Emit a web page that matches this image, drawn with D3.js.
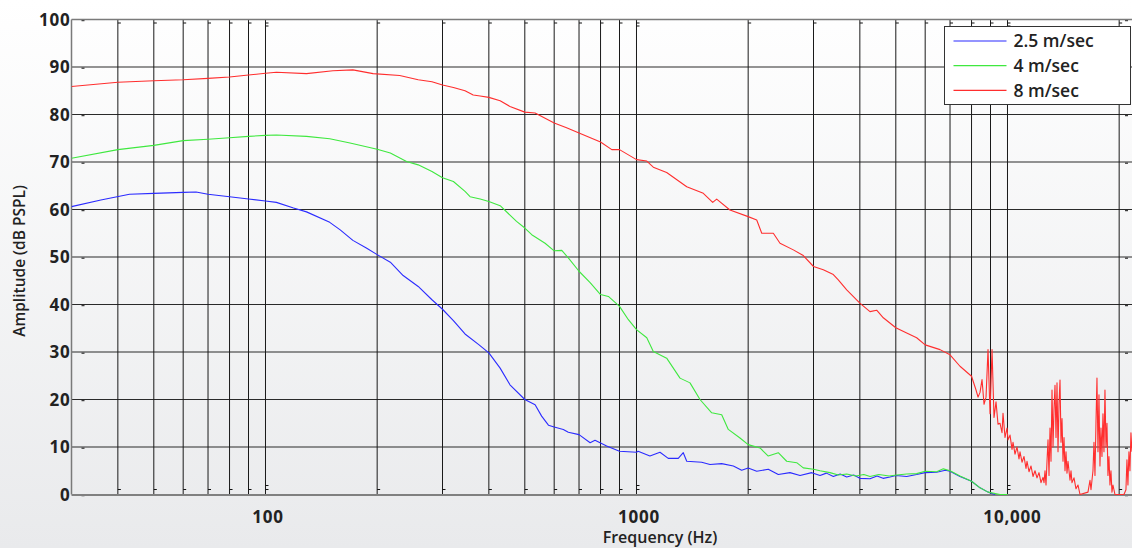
<!DOCTYPE html>
<meta charset="utf-8">
<head>
  <title>Amplitude vs frequency</title>
  <script src="https://cdnjs.cloudflare.com/ajax/libs/d3/7.8.5/d3.min.js"></script>
  <style>
    body { margin: 0; overflow: hidden; }
    text { font-family: "Open Sans", sans-serif; fill: #222; }
  </style>
</head>
<body>
<div id="chart"></div>
<script>
  // values, [Hz, dB]
  var blue = [[30,60.6],[36,62.0],[43,63.2],[50,63.4],[60,63.6],[65,63.7],[70,63.2],[80,62.7],[90,62.2],
    [100,61.8],[107,61.5],[119,60.3],[129,59.5],[149,57.3],[159,55.7],[172,53.5],[187,51.9],[200,50.5],
    [217,48.9],[235,46.1],[258,43.8],[281,41.0],[300,39.0],[321,36.6],[345,33.8],[375,31.6],[400,29.8],
    [429,26.6],[456,23.1],[500,20.0],[533,18.9],[555,16.5],[579,14.6],[600,14.2],[635,13.7],[655,13.1],
    [700,12.6],[750,10.9],[773,11.4],[831,10.2],[900,9.1],[1000,8.9],[1010,9.1],[1087,8.1],[1157,8.9],
    [1218,7.6],[1296,7.6],[1337,8.8],[1366,7.0],[1499,6.8],[1578,6.3],[1697,6.5],[1824,6.0],[1921,5.1],
    [2000,5.6],[2109,4.9],[2266,5.3],[2411,4.2],[2593,4.6],[2759,4.0],[2967,4.6],[3124,4.0],[3250,4.5],
    [3393,3.8],[3540,4.3],[3687,3.7],[3850,4.1],[4000,3.4],[4260,3.3],[4450,3.9],[4620,3.4],[4824,3.7],
    [5000,4.0],[5350,3.8],[5691,4.2],[6000,4.6],[6445,4.7],[6800,5.1],[7000,4.9],[7447,3.8],[8000,2.8],
    [8433,1.4],[8864,0.5],[9254,0]];

  var green = [[30,70.8],[40,72.6],[50,73.5],[60,74.5],[70,74.8],[80,75.1],[90,75.4],[100,75.6],[107,75.7],
    [129,75.4],[149,74.9],[169,74.0],[200,72.7],[217,71.9],[240,70.1],[258,69.4],[281,68.0],[300,66.7],
    [321,65.9],[345,63.8],[356,62.7],[379,62.2],[400,61.7],[429,60.8],[475,57.5],[500,56.1],[522,54.7],
    [567,52.9],[600,51.3],[629,51.4],[655,49.8],[700,47.0],[750,44.6],[800,42.1],[840,41.7],[900,39.6],
    [951,36.8],[1000,34.7],[1066,33.0],[1110,30.1],[1206,28.7],[1310,24.5],[1394,23.5],[1483,20.0],
    [1595,17.2],[1697,16.8],[1768,13.7],[1901,11.9],[2000,10.5],[2152,9.8],[2266,8.1],[2411,8.8],
    [2540,7.0],[2703,6.7],[2816,5.6],[3000,5.3],[3124,5.0],[3323,4.6],[3500,4.1],[3687,4.3],[3900,3.9],
    [4100,4.2],[4260,3.8],[4500,4.2],[4800,3.9],[5028,4.1],[5350,4.3],[5691,4.4],[6000,4.9],[6445,4.8],
    [6714,5.4],[7000,5.0],[7447,3.9],[8000,2.8],[8433,1.4],[8864,0.5],[9546,0],[10000,0]];

  var red = [[30,85.9],[40,86.8],[50,87.1],[60,87.3],[70,87.6],[80,87.9],[90,88.3],[100,88.7],[107,88.9],
    [129,88.6],[152,89.2],[172,89.4],[195,88.6],[230,88.2],[258,87.3],[281,86.9],[300,86.2],[321,85.7],
    [345,85.0],[363,84.1],[379,83.9],[400,83.6],[429,82.9],[456,81.7],[500,80.5],[533,80.3],[600,78.2],
    [648,77.2],[700,76.1],[800,74.2],[858,72.6],[900,72.6],[1000,70.5],[1066,70.2],[1110,68.9],
    [1206,67.8],[1366,64.8],[1514,63.4],[1605,61.5],[1645,62.2],[1786,59.9],[2000,58.5],[2109,57.8],
    [2176,55.0],[2338,55.0],[2437,52.9],[2647,51.5],[2816,50.3],[3000,48.0],[3188,47.3],[3393,46.3],
    [3499,45.2],[3687,43.1],[4000,40.3],[4260,38.5],[4440,38.8],[4627,37.2],[5000,35.1],[5350,34.0],
    [5691,33.0],[6000,31.5],[6579,30.5],[7000,29.4],[7447,27.0],[8000,24.9],
    [8226,22.0],[8329,20.5],[8433,21.5],[8538,24.2],[8645,19.0],[8753,20.5],[8862,30.5],[8973,17.0],
    [9085,30.5],[9198,16.2],[9313,19.5],[9430,14.8],[9547,15.0],[9666,13.0],[9726,17.1],[9848,12.0],
    [9970,14.0],[10032,11.5],[10158,12.5],[10285,9.5],[10349,11.0],[10478,8.5],[10609,10.0],[10741,7.5],
    [10808,9.0],[10943,6.8],[11080,8.0],[11218,5.5],[11288,7.0],[11429,4.8],[11572,6.0],[11716,3.8],
    [11862,5.0],[12010,3.5],[12160,4.6],[12312,2.5],[12466,3.6],[12544,2.5],[12622,5.0],[12701,2.0],
    [12780,7.0],[12860,11.5],[12940,4.0],[13020,14.0],[13101,7.0],[13183,22.0],[13265,10.0],[13347,18.0],
    [13430,23.0],[13514,12.0],[13598,23.5],[13683,9.0],[13768,19.0],[13854,24.1],[13940,11.0],
    [14027,16.0],[14114,7.0],[14202,12.0],[14290,5.0],[14379,9.0],[14468,4.5],[14558,7.0],[14740,3.0],
    [14832,5.0],[14924,2.5],[15110,3.5],[15299,1.2],[15490,2.0],[15683,0],[16480,0.5],[16686,3.0],
    [16790,1.0],[16999,5.0],[17105,11.0],[17211,4.0],[17318,15.0],[17426,24.5],[17535,9.0],[17644,21.0],
    [17753,6.0],[17864,14.0],[17975,8.0],[18087,17.0],[18199,9.0],[18312,22.0],[18426,10.0],[18541,15.0],
    [18656,4.0],[18772,8.0],[18889,2.0],[19007,5.0],[19125,0.5],[19244,2.0],[19484,0],[20602,0],
    [20859,1.0],[20989,7.3],[21119,2.0],[21250,9.0],[21383,5.0],[21516,13.0],[21650,9.0]];

  var seriesNames = ["2.5 m/sec", "4 m/sec", "8 m/sec"];
  var seriesColors = ["#2b2bff", "#3fe83f", "#ff2e2e"];
  var yTicks = [0, 10, 20, 30, 40, 50, 60, 70, 80, 90, 100];
  var xLabelTicks = [100, 1000, 10000];
  var xLabelText = ["100", "1000", "10,000"];
  var xGrid = [40, 50, 60, 70, 80, 90, 100, 200, 300, 400, 500, 600, 700, 800, 900,
    1000, 2000, 3000, 4000, 5000, 6000, 7000, 8000, 9000, 10000, 20000];

  var WIDTH = 1132, HEIGHT = 548;
  var plotLeft = 71.5, plotTop = 19.5, plotBottom = 494.5;
  var decade = 371;

  var x = d3.scaleLog()
    .domain([30, 22050])
    .range([plotLeft, plotLeft + decade * Math.log10(22050 / 30)]);
  var y = d3.scaleLinear().domain([0, 100]).range([plotBottom, plotTop]);

  var svg = d3.select("#chart").append("svg")
    .attr("width", WIDTH)
    .attr("height", HEIGHT);

  var defs = svg.append("defs");
  var grad = defs.append("linearGradient")
    .attr("id", "bg").attr("x1", 0).attr("y1", 0).attr("x2", 0).attr("y2", 1);
  grad.append("stop").attr("offset", "0%").attr("stop-color", "#ffffff");
  grad.append("stop").attr("offset", "100%").attr("stop-color", "#e9eaec");

  defs.append("clipPath").attr("id", "plot")
    .append("rect")
    .attr("x", plotLeft).attr("y", plotTop)
    .attr("width", WIDTH - plotLeft).attr("height", plotBottom - plotTop + 0.5);

  svg.append("rect")
    .attr("width", WIDTH).attr("height", HEIGHT)
    .attr("fill", "url(#bg)");

  // horizontal grid
  svg.append("g").selectAll("line")
    .data(yTicks.filter(function(d) { return d > 0 && d < 100; }))
    .enter().append("line")
    .attr("x1", plotLeft).attr("x2", WIDTH)
    .attr("y1", function(d) { return y(d); })
    .attr("y2", function(d) { return y(d); })
    .attr("stroke", "#2a2a2a").attr("stroke-width", 1.1);

  // vertical grid
  svg.append("g").selectAll("line")
    .data(xGrid)
    .enter().append("line")
    .attr("x1", function(d) { return x(d); })
    .attr("x2", function(d) { return x(d); })
    .attr("y1", plotTop).attr("y2", plotBottom)
    .attr("stroke", "#1a1a1a").attr("stroke-width", 1);

  // little tick marks at the ends of the grid lines
  var isDecade = function(d) { return d === 100 || d === 1000 || d === 10000; };
  var ticks = svg.append("g").attr("stroke", "#111").attr("stroke-width", 1);
  xGrid.forEach(function(d) {
    var levels = isDecade(d)
      ? [plotBottom - 9, plotBottom - 5, plotTop + 3.5, plotTop + 6.5]
      : [plotBottom - 5, plotTop + 3.5];
    levels.forEach(function(l) {
      ticks.append("line")
        .attr("x1", x(d)).attr("x2", x(d) + 3)
        .attr("y1", l).attr("y2", l);
    });
  });
  yTicks.forEach(function(d) {
    ticks.append("line")
      .attr("x1", plotLeft + 10).attr("x2", plotLeft + 13)
      .attr("y1", y(d) + 1.2).attr("y2", y(d) + 1.2);
    ticks.append("line")
      .attr("x1", WIDTH - 7).attr("x2", WIDTH - 4)
      .attr("y1", y(d) + 1.2).attr("y2", y(d) + 1.2);
  });

  // frame
  svg.append("line")
    .attr("x1", plotLeft).attr("x2", WIDTH).attr("y1", plotTop).attr("y2", plotTop)
    .attr("stroke", "#7a7a7a").attr("stroke-width", 1.5);
  svg.append("line")
    .attr("x1", plotLeft).attr("x2", plotLeft).attr("y1", plotTop).attr("y2", plotBottom)
    .attr("stroke", "#7a7a7a").attr("stroke-width", 1.5);
  svg.append("line")
    .attr("x1", plotLeft).attr("x2", WIDTH).attr("y1", plotBottom + 0.5).attr("y2", plotBottom + 0.5)
    .attr("stroke", "#808080").attr("stroke-width", 2);

  // curves
  var line = d3.line()
    .x(function(d) { return x(d[0]); })
    .y(function(d) { return y(d[1]); });

  var curves = svg.append("g").attr("clip-path", "url(#plot)");
  [blue, green, red].forEach(function(s, i) {
    curves.append("path")
      .datum(s)
      .attr("d", line)
      .attr("fill", "none")
      .attr("stroke", seriesColors[i])
      .attr("stroke-width", 1.1)
      .attr("stroke-linejoin", "round");
  });

  // axis labels
  svg.append("g").selectAll("text")
    .data(yTicks)
    .enter().append("text")
    .attr("x", plotLeft - 1)
    .attr("y", function(d) { return y(d); })
    .attr("dy", "0.36em")
    .attr("text-anchor", "end")
    .style("font-size", "17px").style("font-weight", 700).style("letter-spacing", "0.8px")
    .text(function(d) { return d; });

  svg.append("g").selectAll("text")
    .data(xLabelTicks)
    .enter().append("text")
    .attr("x", function(d) { return x(d) + (d >= 10000 ? 5 : 2.5); })
    .attr("y", 523)
    .attr("text-anchor", "middle")
    .style("font-size", "17px").style("font-weight", 700).style("letter-spacing", "0.8px")
    .text(function(d, i) { return xLabelText[i]; });

  svg.append("text")
    .attr("x", 660).attr("y", 543)
    .attr("text-anchor", "middle")
    .style("font-size", "16px").style("font-weight", 600)
    .text("Frequency (Hz)");

  svg.append("text")
    .attr("transform", "translate(25,261) rotate(-90)")
    .attr("text-anchor", "middle")
    .style("font-size", "15.5px").style("font-weight", 600)
    .text("Amplitude (dB PSPL)");

  // legend
  var legend = svg.append("g").attr("transform", "translate(944.5,26.5)");
  legend.append("rect")
    .attr("width", 186).attr("height", 78)
    .attr("fill", "#fff").attr("stroke", "#333").attr("stroke-width", 1);
  seriesNames.forEach(function(name, i) {
    var ly = 14.5 + i * 24.7;
    legend.append("line")
      .attr("x1", 9).attr("x2", 62)
      .attr("y1", ly).attr("y2", ly)
      .attr("stroke", seriesColors[i]).attr("stroke-width", 1.2);
    legend.append("text")
      .attr("x", 69).attr("y", ly)
      .attr("dy", "0.36em")
      .style("font-size", "17.5px").style("font-weight", 600)
      .text(name);
  });
</script>
</body>
